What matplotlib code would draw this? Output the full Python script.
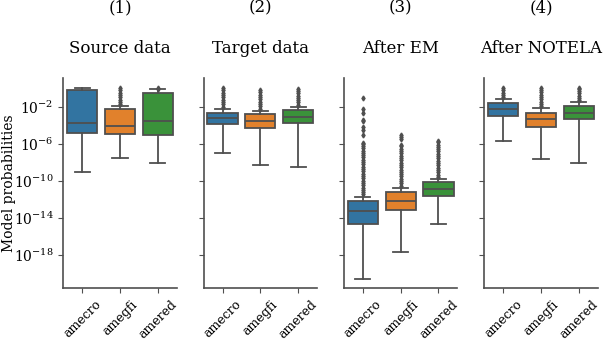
import numpy as np
import matplotlib
matplotlib.use("Agg")
import matplotlib.pyplot as plt

plt.rcParams["font.family"] = "DejaVu Serif"
plt.rcParams["mathtext.fontset"] = "dejavuserif"

# Panel / category labels
PANELS = ["(1)\n\nSource data", "(2)\n\nTarget data", "(3)\n\nAfter EM", "(4)\n\nAfter NOTELA"]
SPECIES = ["amecro", "amegfi", "amered"]
COLORS = ["#3274a1", "#e1812c", "#3a923a"]

# Box statistics in log10(probability); rows = panels, cols = species
MEDIANS = [[-3.73, -4.06, -3.52],
           [-3.22, -3.52, -3.08],
           [-13.33, -12.18, -10.92],
           [-2.28, -3.33, -2.65]]
Q1 = [[-4.88, -4.96, -5.07],
      [-3.87, -4.31, -3.80],
      [-14.70, -13.19, -11.64],
      [-3.01, -4.17, -3.37]]
Q3 = [[-0.19, -2.28, -0.48],
      [-2.65, -2.82, -2.36],
      [-12.18, -11.21, -10.19],
      [-1.63, -2.65, -1.92]]
WHIS_LO = [[-9.04, -7.53, -8.07],
           [-6.98, -8.35, -8.50],
           [-20.60, -17.70, -14.74],
           [-5.68, -7.63, -8.07]]
WHIS_HI = [[0.0, -1.92, -0.11],
           [-2.28, -2.43, -2.00],
           [-11.75, -10.78, -9.83],
           [-1.20, -2.17, -1.52]]

# Outliers (log10)
FLIERS = [
    [[],
     [-1.7, -1.5, -1.25, -1.0, -0.75, -0.5, -0.25, 0.0],
     [-0.05, 0.0]],
    [[-2.0, -1.75, -1.5, -1.25, -1.0, -0.75, -0.5, -0.25, 0.0],
     [-2.2, -1.95, -1.7, -1.45, -1.2, -0.95, -0.7, -0.45, -0.2],
     [-1.8, -1.55, -1.3, -1.05, -0.8, -0.55, -0.3, -0.05]],
    [[-11.5, -11.25, -11.0, -10.75, -10.5, -10.25, -10.0, -9.75, -9.5,
      -9.25, -9.0, -8.75, -8.5, -8.25, -8.0, -7.75, -7.5, -7.25, -7.0,
      -6.75, -6.5, -6.25, -6.0, -5.9, -5.1, -4.5, -4.2, -3.6, -3.4,
      -2.7, -2.2, -1.1],
     [-10.55, -10.3, -10.05, -9.8, -9.55, -9.3, -9.05, -8.8, -8.55,
      -8.3, -8.05, -7.8, -7.55, -7.3, -7.05, -6.8, -6.55, -6.3, -6.15,
      -5.5, -5.25, -5.07],
     [-9.6, -9.35, -9.1, -8.85, -8.6, -8.35, -8.1, -7.85, -7.6, -7.35,
      -7.1, -6.85, -6.6, -6.35, -6.1, -5.85, -5.7]],
    [[-1.0, -0.75, -0.5, -0.25, 0.0],
     [-1.95, -1.7, -1.45, -1.2, -0.95, -0.7, -0.45, -0.2, 0.0],
     [-1.3, -1.05, -0.8, -0.55, -0.3, -0.05, 0.0]],
]

YTICKS = [-2, -6, -10, -14, -18]

W, H = 606, 340
fig = plt.figure(figsize=(W / 100, H / 100), dpi=100)

lefts = [63.3, 203.6, 343.9, 484.2]
ax_w, ax_top, ax_bot = 113.5, 78, 288.3
gray = "#4f4f4f"

for p in range(4):
    ax = fig.add_axes([lefts[p] / W, 1 - ax_bot / H, ax_w / W, (ax_bot - ax_top) / H])
    stats = []
    for s in range(3):
        stats.append(dict(
            med=10 ** MEDIANS[p][s], q1=10 ** Q1[p][s], q3=10 ** Q3[p][s],
            whislo=10 ** WHIS_LO[p][s], whishi=10 ** WHIS_HI[p][s],
            fliers=10 ** np.array(FLIERS[p][s], dtype=float),
        ))
    bp = ax.bxp(stats, positions=range(3), widths=0.8, patch_artist=True,
                boxprops=dict(edgecolor=gray, linewidth=1.3),
                medianprops=dict(color=gray, linewidth=1.3),
                whiskerprops=dict(color=gray, linewidth=1.3),
                capprops=dict(color=gray, linewidth=1.3),
                flierprops=dict(marker="d", markersize=2.5, markerfacecolor=gray,
                                markeredgecolor=gray, linestyle="none"))
    for patch, c in zip(bp["boxes"], COLORS):
        patch.set_facecolor(c)

    ax.set_yscale("log")
    ax.set_ylim(10 ** -21.65, 10 ** 1.1)
    ax.set_xlim(-0.5, 2.5)
    ax.set_yticks([10.0 ** t for t in YTICKS])
    ax.yaxis.set_minor_locator(matplotlib.ticker.NullLocator())
    if p == 0:
        ax.set_yticklabels([f"$10^{{{t}}}$" for t in YTICKS])
        ax.set_ylabel("Model probabilities", fontsize=10)
        ax.yaxis.set_label_coords(-0.415, 0.5)
    else:
        ax.set_yticklabels([])
    ax.set_xticks(range(3))
    ax.set_xticklabels(SPECIES, rotation=45, ha="center")
    ax.tick_params(axis="y", labelsize=10, color=gray)
    ax.tick_params(axis="x", labelsize=9, color=gray)
    for side in ["top", "right"]:
        ax.spines[side].set_visible(False)
    for side in ["left", "bottom"]:
        ax.spines[side].set_color(gray)
        ax.spines[side].set_linewidth(1.2)
    ax.set_title(PANELS[p], fontsize=12, pad=18, linespacing=1.25)

fig.savefig("out.png", dpi=100)
